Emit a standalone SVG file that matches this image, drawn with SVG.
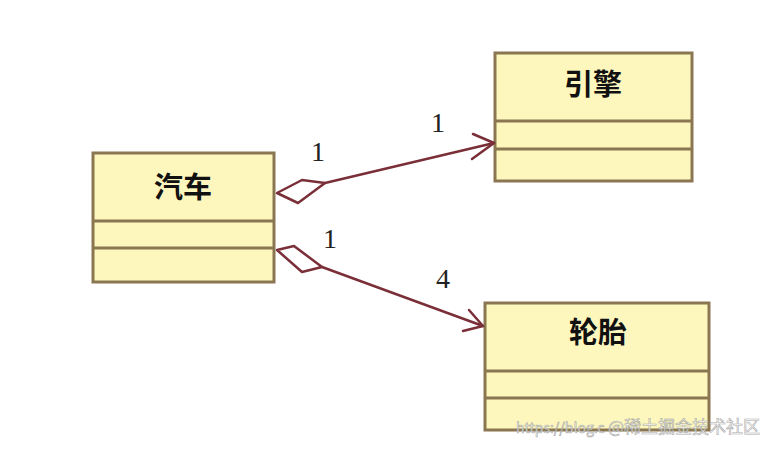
<svg xmlns="http://www.w3.org/2000/svg" width="765" height="451" viewBox="0 0 765 451">
<style>
.box{fill:#fdf7bd;stroke:#8a7650;stroke-width:3}
.div{stroke:#8a7650;stroke-width:3}
.name{font-family:"Noto Sans CJK SC","Liberation Sans",sans-serif;font-size:29px;font-weight:bold;fill:#111;text-anchor:middle}
.mult{font-family:"Liberation Serif",serif;font-size:28px;fill:#222;text-anchor:middle}
.conn{fill:none;stroke:#7a2f38;stroke-width:2.5;stroke-linejoin:round;stroke-linecap:round}
.wm{font-family:"Noto Sans CJK SC","Liberation Sans",sans-serif;fill:#fff;stroke:#9a9a9a;stroke-width:0.6;opacity:0.85}
</style>
<rect width="765" height="451" fill="#fff"/>
<g id="car">
<rect class="box" x="93" y="153" width="181" height="129"/>
<line class="div" x1="93" y1="221" x2="274" y2="221"/>
<line class="div" x1="93" y1="248" x2="274" y2="248"/>
<text class="name" x="183" y="198">汽车</text>
</g>
<g id="engine">
<rect class="box" x="495" y="53" width="197" height="128"/>
<line class="div" x1="495" y1="121" x2="692" y2="121"/>
<line class="div" x1="495" y1="149" x2="692" y2="149"/>
<text class="name" x="593" y="95">引擎</text>
</g>
<g id="tire">
<rect class="box" x="485" y="303" width="224" height="127"/>
<line class="div" x1="485" y1="371" x2="709" y2="371"/>
<line class="div" x1="485" y1="398" x2="709" y2="398"/>
<text class="name" x="598" y="343">轮胎</text>
</g>
<g id="connectors">
<path class="conn" d="M277,193 L302,180 L325,183 L298,203 Z"/>
<path class="conn" d="M325,183 L494,143"/>
<path class="conn" d="M473,134 L494,143 L472,159"/>
<path class="conn" d="M277,250 L294,246 L322,267 L302,272 Z"/>
<path class="conn" d="M322,267 L483,326"/>
<path class="conn" d="M469,310 L483,326 L463,331"/>
<text class="mult" x="318" y="161">1</text>
<text class="mult" x="438" y="132">1</text>
<text class="mult" x="330" y="248">1</text>
<text class="mult" x="443" y="288">4</text>
</g>
<text class="wm" x="516" y="433" font-size="14">https://blog.c</text>
<text class="wm" x="608" y="433" font-size="17">@稀土掘金技术社区</text>
</svg>
